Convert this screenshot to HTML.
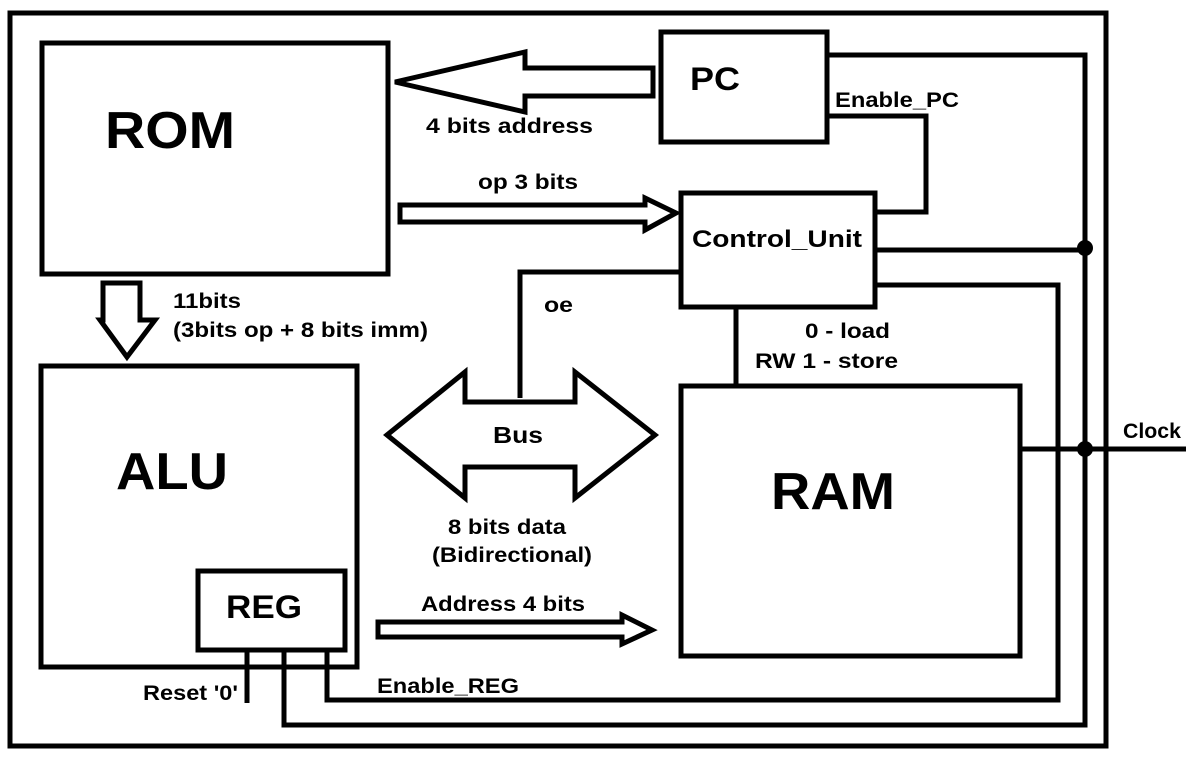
<!DOCTYPE html>
<html><head><meta charset="utf-8"><style>
html,body{margin:0;padding:0;background:#fff;}
svg{display:block;}
text{font-family:"Liberation Sans",Arial,sans-serif;font-weight:bold;fill:#000;}
</style></head><body>
<svg width="1199" height="761" viewBox="0 0 1199 761" xmlns="http://www.w3.org/2000/svg">
<g fill="none" stroke="#000" stroke-width="5">
<rect x="10" y="13" width="1096" height="733"/>
<rect x="42" y="43" width="346" height="231"/>
<rect x="661" y="32" width="166" height="110"/>
<rect x="681" y="193" width="194" height="114"/>
<rect x="41" y="366" width="316" height="301"/>
<rect x="198" y="571" width="147" height="79"/>
<rect x="681" y="386" width="339" height="270"/>
<polyline points="827,55 1085,55 1085,725 284,725 284,650"/>
<polyline points="827,116 926,116 926,212 875,212"/>
<line x1="875" y1="250" x2="1085" y2="250"/>
<polyline points="875,285 1058,285 1058,700 327,700 327,650"/>
<line x1="247" y1="650" x2="247" y2="703"/>
<line x1="1020" y1="449" x2="1186" y2="449"/>
<polyline points="681,272 520,272 520,398"/>
<line x1="736" y1="307" x2="736" y2="386"/>
<polygon points="395,82 525,52 525,68 653,68 653,96 525,96 525,112"/>
<polygon points="400,205 645,205 645,198 676,213 645,230 645,222 400,222"/>
<polygon points="378,622 622,622 622,615 652,630 622,644 622,637 378,637"/>
<polygon points="103,283 140,283 140,320 155,320 127,357 100,320 103,320"/>
<polygon points="387,435 465,372 465,402 575,402 575,372 655,435 575,498 575,467 465,467 465,498"/>
</g>
<circle cx="1085" cy="248" r="8"/>
<circle cx="1085" cy="449" r="8"/>
<text x="105" y="148" font-size="52" textLength="130" lengthAdjust="spacingAndGlyphs">ROM</text>
<text x="690" y="90" font-size="32" textLength="50" lengthAdjust="spacingAndGlyphs">PC</text>
<text x="692" y="247" font-size="24" textLength="170" lengthAdjust="spacingAndGlyphs">Control_Unit</text>
<text x="116" y="489" font-size="52" textLength="112" lengthAdjust="spacingAndGlyphs">ALU</text>
<text x="226" y="618" font-size="32" textLength="76" lengthAdjust="spacingAndGlyphs">REG</text>
<text x="771" y="509" font-size="52" textLength="124" lengthAdjust="spacingAndGlyphs">RAM</text>
<text x="493" y="443" font-size="23" textLength="50" lengthAdjust="spacingAndGlyphs">Bus</text>
<text x="426" y="133" font-size="21" textLength="167" lengthAdjust="spacingAndGlyphs">4 bits  address</text>
<text x="835" y="107" font-size="21" textLength="124" lengthAdjust="spacingAndGlyphs">Enable_PC</text>
<text x="478" y="189" font-size="21" textLength="100" lengthAdjust="spacingAndGlyphs">op 3 bits</text>
<text x="173" y="308" font-size="21" textLength="68" lengthAdjust="spacingAndGlyphs">11bits</text>
<text x="173" y="337" font-size="21" textLength="255" lengthAdjust="spacingAndGlyphs">(3bits op + 8 bits imm)</text>
<text x="544" y="312" font-size="21" textLength="29" lengthAdjust="spacingAndGlyphs">oe</text>
<text x="805" y="338" font-size="21" textLength="85" lengthAdjust="spacingAndGlyphs">0 - load</text>
<text x="755" y="368" font-size="21" textLength="143" lengthAdjust="spacingAndGlyphs">RW  1 - store</text>
<text x="1123" y="438" font-size="21" textLength="58" lengthAdjust="spacingAndGlyphs">Clock</text>
<text x="448" y="534" font-size="21" textLength="118" lengthAdjust="spacingAndGlyphs">8 bits data</text>
<text x="432" y="562" font-size="21" textLength="160" lengthAdjust="spacingAndGlyphs">(Bidirectional)</text>
<text x="421" y="611" font-size="21" textLength="164" lengthAdjust="spacingAndGlyphs">Address 4 bits</text>
<text x="143" y="700" font-size="21" textLength="95" lengthAdjust="spacingAndGlyphs">Reset '0'</text>
<text x="377" y="693" font-size="21" textLength="142" lengthAdjust="spacingAndGlyphs">Enable_REG</text>
</svg>
</body></html>
